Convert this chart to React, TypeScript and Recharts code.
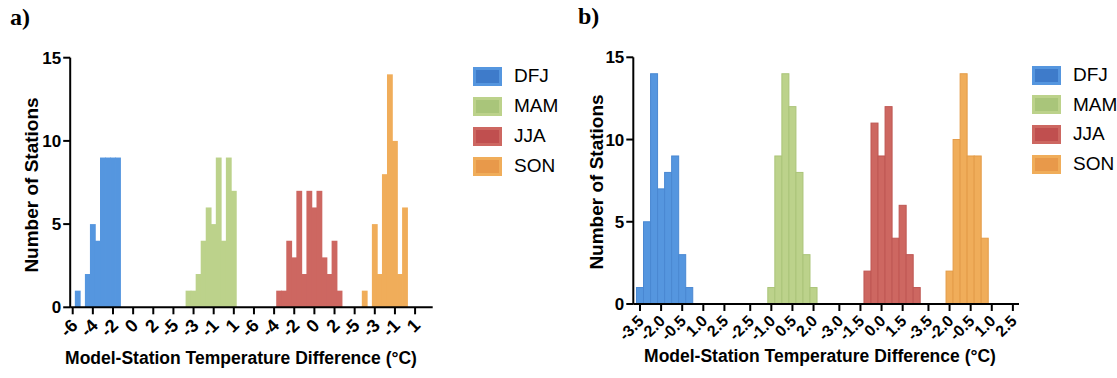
import React from "react";
import { BarChart, Bar, XAxis, YAxis } from "recharts";

const seasons = ["DFJ", "MAM", "JJA", "SON"];
const barColors = ["#5596df", "#bcd28b", "#cd6761", "#f0ad5a"];
const barEdges = ["#4a88d2", "#abc479", "#bf5753", "#e49c48"];
const legendFill = ["#3e7bca", "#a9c57a", "#c04f4f", "#e8994a"];

// a) bin centres (°C) and number of stations per season
const aDfjBins = [-5.5, -5.0, -4.5, -4.0, -3.5, -3.0, -2.5, -2.0, -1.5];
const aDfjCounts = [1, 0, 2, 5, 4, 9, 9, 9, 9];
const aMamBins = [-3.5, -3.0, -2.5, -2.0, -1.5, -1.0, -0.5, 0.0, 0.5, 1.0];
const aMamCounts = [1, 1, 2, 4, 6, 5, 9, 4, 9, 7];
const aJjaBins = [-3.5, -3.0, -2.5, -2.0, -1.5, -1.0, -0.5, 0.0, 0.5, 1.0, 1.5, 2.0, 2.5];
const aJjaCounts = [1, 1, 4, 3, 7, 2, 7, 6, 7, 3, 2, 4, 1];
const aSonBins = [-4.0, -3.5, -3.0, -2.5, -2.0, -1.5, -1.0, -0.5, 0.0];
const aSonCounts = [1, 0, 5, 2, 8, 14, 10, 2, 6];
const aTickLabels = [
  [-6, -4, -2, 0, 2],
  [-5, -3, -1, 1],
  [-6, -4, -2, 0, 2],
  [-5, -3, -1, 1],
];

// b)
const bDfjBins = [-3.5, -3.0, -2.5, -2.0, -1.5, -1.0, -0.5, 0.0];
const bDfjCounts = [1, 5, 14, 7, 8, 9, 3, 1];
const bMamBins = [-1.0, -0.5, 0.0, 0.5, 1.0, 1.5, 2.0];
const bMamCounts = [1, 9, 14, 12, 8, 3, 1];
const bJjaBins = [-1.0, -0.5, 0.0, 0.5, 1.0, 1.5, 2.0, 2.5];
const bJjaCounts = [2, 11, 9, 12, 4, 6, 3, 1];
const bSonBins = [-2.0, -1.5, -1.0, -0.5, 0.0, 0.5];
const bSonCounts = [2, 10, 14, 9, 9, 4];
const bTickLabels = [
  [-3.5, -2.0, -0.5, 1.0, 2.5],
  [-2.5, -1.0, 0.5, 2.0],
  [-3.0, -1.5, 0.0, 1.5],
  [-3.5, -2.0, -0.5, 1.0, 2.5],
];

const yTicks = [0, 5, 10, 15];
const BIN = 0.5;
const FONT = "'Liberation Sans', Arial, Helvetica, sans-serif";

// each season sits on its own stretch of the x axis, laid end to end
function buildPanel(bins: number[][], counts: number[][], ticks: number[][], gap: number, decimals: number) {
  const rows: any[] = [];
  const tickPos: number[] = [];
  const tickText: Record<string, string> = {};
  let offset = 0;
  for (let g = 0; g < 4; g++) {
    if (g > 0) {
      const prev = ticks[g - 1];
      offset = offset + prev[prev.length - 1] + gap - ticks[g][0];
    }
    bins[g].forEach((b, i) => {
      const row: any = { u: offset + b };
      seasons.forEach((s, k) => (row[s] = k === g ? counts[g][i] : 0));
      rows.push(row);
    });
    ticks[g].forEach((t) => {
      const p = offset + t;
      tickPos.push(p);
      tickText[p.toFixed(3)] = t.toFixed(decimals);
    });
  }
  return { rows, tickPos, tickText };
}

const panelA = buildPanel(
  [aDfjBins, aMamBins, aJjaBins, aSonBins],
  [aDfjCounts, aMamCounts, aJjaCounts, aSonCounts],
  aTickLabels, 2, 0
);
const panelB = buildPanel(
  [bDfjBins, bMamBins, bJjaBins, bSonBins],
  [bDfjCounts, bMamCounts, bJjaCounts, bSonCounts],
  bTickLabels, 1.834, 1
);

const RotTick = (props: any) => {
  const { x, y, payload, texts, fontSize, dx, dy } = props;
  const label = texts[Number(payload.value).toFixed(3)] ?? "";
  const px = x + dx;
  const py = y + dy;
  return (
    <text x={px} y={py} transform={`rotate(-45 ${px} ${py})`} textAnchor="end"
      dominantBaseline="central" fontFamily={FONT} fontWeight={700} fontSize={fontSize} fill="#000">
      {label}
    </text>
  );
};

// histogram block; widened a touch so neighbouring bins meet without seams
const binShape = (edge: string | null, pad: number) => (props: any) => {
  const { x, y, width, height, fill } = props;
  if (!height || height <= 0) return <g />;
  return (
    <rect x={x - pad} y={y} width={width + 2 * pad} height={height} fill={fill}
      stroke={edge ?? "none"} strokeWidth={edge ? 1 : 0} />
  );
};

function Panel(p: any) {
  const { panel, left, width, margin, domain, tickFont, edges, tdx, tdy } = p;
  const plotW = width - margin.left - margin.right - 60;
  // keep just under the band so recharts does not shrink the bars
  const barSize = (plotW / (domain[1] - domain[0])) * BIN - 0.02;
  return (
    <div style={{ position: "absolute", left, top: 0 }}>
      <BarChart width={width} height={378} data={panel.rows} margin={margin} barCategoryGap={0} barGap={0}>
        <XAxis type="number" dataKey="u" domain={domain} allowDataOverflow ticks={panel.tickPos} interval={0}
          height={40} tickSize={7} axisLine={{ stroke: "#000", strokeWidth: 2 }}
          tickLine={{ stroke: "#000", strokeWidth: 2 }}
          tick={<RotTick texts={panel.tickText} fontSize={tickFont} dx={tdx} dy={tdy} />} />
        <YAxis domain={[0, 15]} ticks={yTicks} width={60} tickSize={7} tickMargin={2} interval={0}
          axisLine={{ stroke: "#000", strokeWidth: 2 }} tickLine={{ stroke: "#000", strokeWidth: 2 }}
          tick={{ fill: "#000", fontSize: 17, fontWeight: 700, fontFamily: FONT }} />
        {seasons.map((s, i) => (
          <Bar key={s} dataKey={s} stackId="h" barSize={barSize} fill={barColors[i]}
            shape={binShape(edges ? barEdges[i] : null, edges ? 0 : 0.4)} isAnimationActive={false} />
        ))}
      </BarChart>
    </div>
  );
}

function Legend({ left, top, step }: any) {
  return (
    <div style={{ position: "absolute", left, top }}>
      {seasons.map((s, i) => (
        <div key={s} style={{ position: "absolute", left: 0, top: i * step, display: "flex", alignItems: "center", height: 20 }}>
          <div style={{ width: 23, height: 13, background: legendFill[i], border: `3px solid ${barColors[i]}`, boxSizing: "content-box" }} />
          <span style={{ marginLeft: 12, fontFamily: FONT, fontSize: 19, color: "#000", whiteSpace: "nowrap" }}>{s}</span>
        </div>
      ))}
    </div>
  );
}

const abs = (left: number, top: number, extra: any = {}): any => ({
  position: "absolute", left, top, whiteSpace: "nowrap", ...extra,
});

export default function App() {
  const yTitle = { fontFamily: FONT, fontWeight: 700, fontSize: 19, color: "#000", transform: "translate(-50%, -50%) rotate(-90deg)" };
  const xTitle = { fontFamily: FONT, fontWeight: 700, fontSize: 17.5, color: "#000", transform: "translate(-50%, -50%)" };
  return (
    <div style={{ position: "absolute", left: 0, top: 0, width: 1117, height: 378, background: "#fff", overflow: "hidden" }}>
      <Panel panel={panelA} left={0} width={450} domain={[-6.25, 29.75]}
        margin={{ top: 57.7, right: 17.3, bottom: 30.7, left: 10.2 }} tickFont={18} edges={false} tdx={2} tdy={6} />
      <Panel panel={panelB} left={563} width={480} domain={[-3.976, 23.437]}
        margin={{ top: 57.3, right: 24, bottom: 34, left: 10.3 }} tickFont={16} edges={true} tdx={1} tdy={5} />
      <Legend left={473} top={66} step={30} />
      <Legend left={1032} top={65} step={29.7} />
      <div style={abs(10, 4, { fontFamily: "'Liberation Serif', 'Times New Roman', serif", fontWeight: 700, fontSize: 24 })}>a)</div>
      <div style={abs(578, 3, { fontFamily: "'Liberation Serif', 'Times New Roman', serif", fontWeight: 700, fontSize: 24 })}>b)</div>
      <div style={abs(32, 185, yTitle)}>Number of Stations</div>
      <div style={abs(597, 182, yTitle)}>Number of Stations</div>
      <div style={abs(241, 358, xTitle)}>Model-Station Temperature Difference (°C)</div>
      <div style={abs(820, 356, xTitle)}>Model-Station Temperature Difference (°C)</div>
    </div>
  );
}
